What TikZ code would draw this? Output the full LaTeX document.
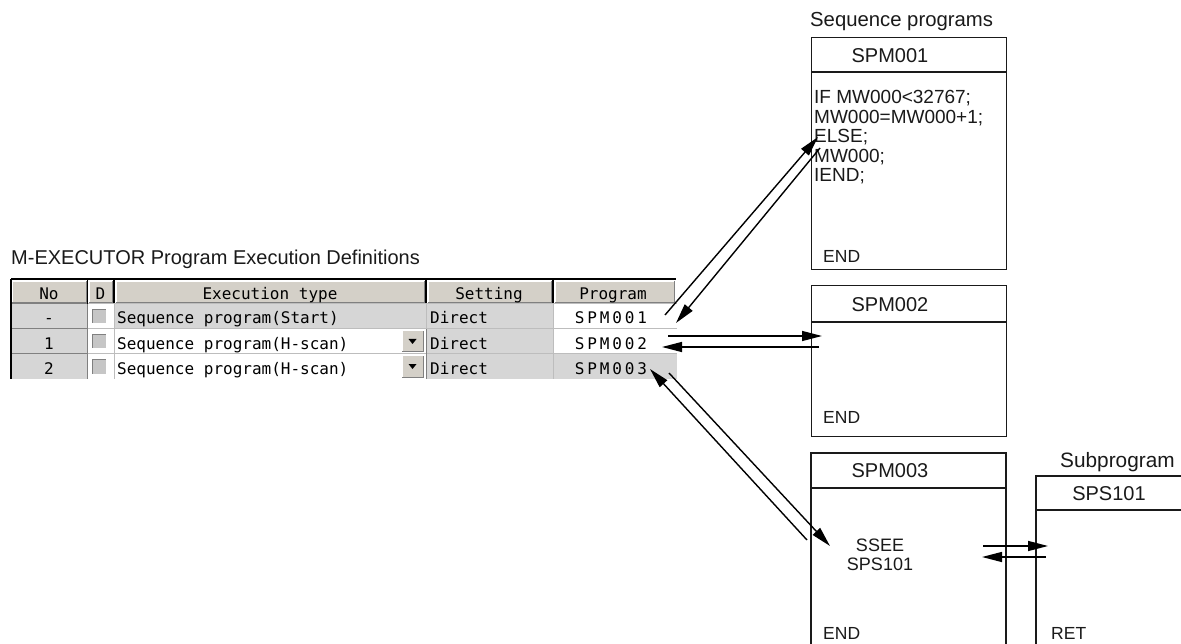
\documentclass[tikz,border=0pt]{standalone}
\usepackage{fontspec}
\setmainfont{Liberation Sans}
\newfontfamily\tabfont{DejaVu Sans Mono}
\newfontfamily\tabwide[LetterSpace=18]{DejaVu Sans Mono}
\usetikzlibrary{arrows.meta}
\definecolor{btnface}{HTML}{D4D0C8}
\definecolor{cellgray}{HTML}{D6D6D6}
\definecolor{inkc}{HTML}{1A1A1A}
\definecolor{sepc}{HTML}{BDBDBD}
\definecolor{darksep}{HTML}{808080}
\tikzset{
  boxline/.style={draw=inkc, line width=1.3pt},
  hdrtext/.style={font=\fontsize{20}{24}\selectfont, text=inkc, inner sep=0pt},
  codetext/.style={font=\fontsize{19}{21}\selectfont, text=inkc, anchor=base west, inner sep=0pt},
  endtext/.style={font=\fontsize{17.5}{20}\selectfont, text=inkc, anchor=base west, inner sep=0pt},
  labeltext/.style={font=\fontsize{20.3}{24}\selectfont, text=inkc, anchor=base west, inner sep=0pt},
  tabtext/.style={font=\tabfont\fontsize{16}{18}\selectfont, text=black, inner sep=0pt},
  tabwidetext/.style={font=\tabwide\fontsize{16}{18}\selectfont, text=black, inner sep=0pt, anchor=base},
  arr/.style={draw=black, line width=1.4pt, -{Triangle[length=20pt,width=10pt]}},
  boxnode/.style={boxline, anchor=north west, inner sep=0pt, minimum width=195pt},
}
\begin{document}
\begin{tikzpicture}[x=1pt,y=-1pt]
\useasboundingbox (0,0) rectangle (1181,644);
\fill[white] (0,0) rectangle (1181,644);

% ---------- title ----------
\node[labeltext, font=\fontsize{20}{24}\selectfont] (title) at (11,265) {M-EXECUTOR Program Execution Definitions};

% ---------- table backgrounds ----------
\fill[cellgray] (12,304) rectangle (87,379);
\fill[cellgray] (115,304) rectangle (426,329);
\fill[cellgray] (427,304) rectangle (553,379);
\fill[cellgray] (553,354) rectangle (677,379);

% header buttons
\foreach \a/\b in {12/86, 89/112, 116/424, 428/551, 555/674} {
  \fill[btnface] (\a,281) rectangle (\b,303);
  \draw[white, line width=1pt] (\a,303) -- (\a,281.5) -- (\b,281.5);
  \draw[darksep, line width=1pt] (\a,303) -- (\b,303) -- (\b,281.5);
}
% header separators
\foreach \x in {87.5, 114, 426, 553} {
  \draw[black, line width=1.6pt] (\x,279) -- (\x,304);
}
% row separators
\draw[darksep, line width=1pt] (12,304) -- (87,304);
\draw[sepc, line width=1pt] (88,304) -- (677,304);
\foreach \y in {329, 354} {
  \draw[darksep, line width=1pt] (12,\y) -- (87,\y);
  \draw[sepc, line width=1pt] (88,\y) -- (677,\y);
}
\draw[darksep, line width=1pt] (87.5,304) -- (87.5,379);
\draw[sepc, line width=1pt] (114,304) -- (114,379);
\draw[sepc, line width=1pt] (426.5,304) -- (426.5,329);
\draw[darksep, line width=1.2pt] (426.5,329) -- (426.5,379);
\draw[sepc, line width=0.8pt] (553,304) -- (553,379);
% outer borders
\draw[black, line width=2pt] (11,279) -- (676,279);
\draw[black, line width=2pt] (11,279) -- (11,379);

% checkboxes
\foreach \c in {317, 342, 367} {
  \fill[gray!45] (92,\c-7) rectangle (106,\c+7);
  \draw[darksep, line width=1pt] (92,\c+7) -- (92,\c-7) -- (106,\c-7);
  \draw[white, line width=1pt] (92,\c+7) -- (106,\c+7) -- (106,\c-7);
}
% dropdown buttons
\foreach \t/\bt in {331/352, 356/377} {
  \fill[btnface] (402,\t) rectangle (423,\bt);
  \draw[white, line width=1pt] (402,\bt) -- (402,\t) -- (423,\t);
  \draw[darksep, line width=1pt] (402,\bt) -- (423,\bt) -- (423,\t);
  \fill[black] (408.5,\t+8) -- (416.5,\t+8) -- (412.5,\t+13) -- cycle;
}

% header texts
\node[tabtext, anchor=base] (hno) at (49,300) {No};
\node[tabtext, anchor=base] (hd) at (100.5,300) {D};
\node[tabtext, anchor=base] (hexec) at (270,300) {Execution type};
\node[tabtext, anchor=base] (hset) at (489,300) {Setting};
\node[tabtext, anchor=base] (hprog) at (613,300) {Program};

% row texts
\node[tabtext, anchor=base] (n1) at (49,324) {-};
\node[tabtext, anchor=base] (n2) at (49,349) {1};
\node[tabtext, anchor=base] (n3) at (49,374) {2};
\node[tabtext, anchor=base west] (e1) at (117,324) {Sequence program(Start)};
\node[tabtext, anchor=base west] (e2) at (117,349) {Sequence program(H-scan)};
\node[tabtext, anchor=base west] (e3) at (117,374) {Sequence program(H-scan)};
\node[tabtext, anchor=base west] (s1) at (430,324) {Direct};
\node[tabtext, anchor=base west] (s2) at (430,349) {Direct};
\node[tabtext, anchor=base west] (s3) at (430,374) {Direct};
\node[tabwidetext] (p1) at (611,324) {SPM001};
\node[tabwidetext] (p2) at (611,349) {SPM002};
\node[tabwidetext] (p3) at (611,374) {SPM003};

% ---------- program boxes ----------
\node[labeltext] (seqlabel) at (810,27) {Sequence programs};

\node[boxnode, minimum height=232pt] (box1) at (811,37) {};
\draw[boxline] (811,72) -- (1006,72);
\node[hdrtext] (h1) at (890,56) {SPM001};
\node[codetext] (c1) at (814,104) {IF MW000<32767;};
\node[codetext] (c2) at (814,123.5) {MW000=MW000+1;};
\node[codetext] (c3) at (814,143) {ELSE;};
\node[codetext] (c4) at (814,162.5) {MW000;};
\node[codetext] (c5) at (814,182) {IEND;};
\node[endtext] (end1) at (823,263) {END};

\node[boxnode, minimum height=151pt] (box2) at (811,285) {};
\draw[boxline] (811,322) -- (1006,322);
\node[hdrtext] (h2) at (890,305) {SPM002};
\node[endtext] (end2) at (823,423) {END};

\draw[boxline] (811,644) -- (811,453) -- (1006,453) -- (1006,644);
\draw[boxline] (811,488) -- (1006,488);
\node[hdrtext] (h3) at (890,471) {SPM003};
\node[font=\fontsize{18}{19.5}\selectfont, text=inkc, align=center, inner sep=0pt] (call) at (880,555) {SSEE\\SPS101};
\node[endtext] (end3) at (823,639) {END};

\node[labeltext, font=\fontsize{20.8}{24}\selectfont] (sublabel) at (1060,467) {Subprogram};
\draw[boxline] (1036,644) -- (1036,476) -- (1181,476);
\draw[boxline] (1036,510) -- (1181,510);
\node[hdrtext] (h4) at (1109,494) {SPS101};
\node[endtext] (ret) at (1051,639) {RET};

% ---------- arrows ----------
\coordinate (a1s) at (665,315);
\coordinate (a1e) at (818,137);
\coordinate (b1s) at (820,148);
\coordinate (b1e) at (676,323);
\coordinate (a2s) at (668,336);
\coordinate (a2e) at (822,336);
\coordinate (b2s) at (819,347);
\coordinate (b2e) at (662,347);
\coordinate (b3s) at (807,540);
\coordinate (b3e) at (650,369);
\coordinate (a3s) at (669,373);
\coordinate (a3e) at (830,546);
\coordinate (a4s) at (983,546);
\coordinate (a4e) at (1048,546);
\coordinate (b4s) at (1046,557);
\coordinate (b4e) at (982,557);

\draw[arr] (a1s) -- (a1e);
\draw[arr] (b1s) -- (b1e);
\draw[arr] (a2s) -- (a2e);
\draw[arr] (b2s) -- (b2e);
\draw[arr] (b3s) -- (b3e);
\draw[arr] (a3s) -- (a3e);
\draw[arr] (a4s) -- (a4e);
\draw[arr] (b4s) -- (b4e);
\end{tikzpicture}
\end{document}
